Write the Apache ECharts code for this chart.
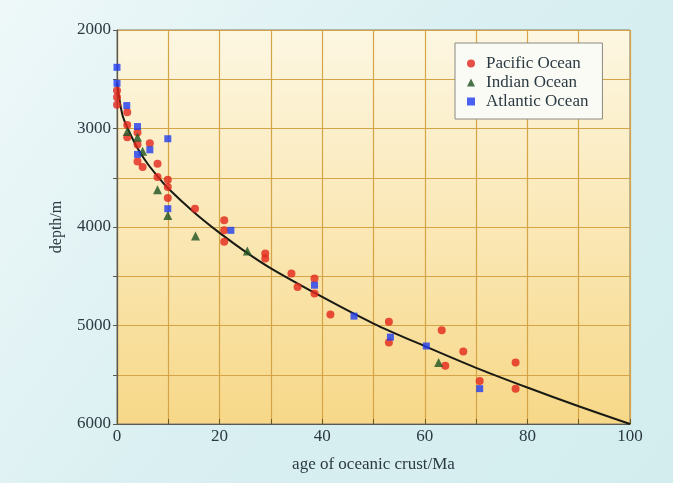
<!DOCTYPE html>
<html>
<head>
<meta charset="utf-8">
<script src="https://cdn.jsdelivr.net/npm/echarts@6/dist/echarts.min.js"></script>
<style>
  html, body { margin: 0; padding: 0; background: #fff; }
  #chart { width: 673px; height: 483px; }
</style>
</head>
<body>
<div id="chart"></div>
<script>
// data: [age (Ma), depth (m)]
const pacific = [
  [0, 2615], [0, 2682], [0, 2760], [2, 2835], [2, 2965], [2, 3090],
  [4, 3040], [4, 3162], [4, 3335], [5, 3392], [6.4, 3149], [7.9, 3358],
  [7.9, 3493], [9.9, 3520], [9.9, 3595], [9.9, 3706], [15.2, 3814],
  [20.9, 3932], [20.9, 4034], [20.9, 4150], [28.9, 4270], [28.9, 4321],
  [34, 4473], [35.2, 4608], [38.5, 4523], [38.5, 4675], [41.6, 4888],
  [53, 4963], [53, 5172], [63.3, 5047], [64, 5408], [67.5, 5263],
  [70.7, 5564], [77.7, 5375], [77.7, 5641]
]
const indian = [
  [2, 3031], [4, 3088], [5, 3231], [7.9, 3621], [9.9, 3882],
  [15.3, 4091], [25.4, 4243], [62.7, 5375]
]
const atlantic = [
  [0, 2379], [0, 2541], [1.9, 2767], [4, 2980], [9.9, 3104], [4, 3263],
  [6.4, 3216], [9.9, 3814], [22.2, 4034], [38.5, 4591], [46.2, 4905],
  [53.3, 5118], [60.3, 5208], [70.7, 5641]
]
// fitted curve, read at a few ages
const curveAges = [0, 1, 2, 4, 6, 8, 10, 15, 20, 25, 30, 40, 50, 60, 70, 80, 90, 100]
const curveDepths = [2540, 2850, 2990, 3200, 3360, 3490, 3610, 3850, 4060, 4250, 4420, 4710, 4980, 5210, 5430, 5630, 5820, 6000]

const textColor = '#2b3a42'
const font = 'Liberation Serif'

const chart = echarts.init(document.getElementById('chart'))
chart.setOption({
  backgroundColor: new echarts.graphic.LinearGradient(0, 0, 1, 1, [
    { offset: 0, color: '#eef8f9' },
    { offset: 0.5, color: '#d9eff1' },
    { offset: 1, color: '#d3edef' }
  ]),
  textStyle: { fontFamily: font },
  animation: false,
  grid: {
    left: 117, top: 30, width: 513, height: 394,
    show: true,
    borderColor: '#7a7a72',
    borderWidth: 1,
    backgroundColor: new echarts.graphic.LinearGradient(0, 0, 0, 1, [
      { offset: 0, color: '#fdf7e2' },
      { offset: 1, color: '#f7d888' }
    ])
  },
  legend: {
    orient: 'vertical',
    left: 455, top: 43,
    padding: [12, 14, 9, 12],
    backgroundColor: '#fbfbf6',
    borderColor: '#8a8a84',
    borderWidth: 1,
    itemWidth: 8, itemHeight: 8, itemGap: 2,
    data: ['Pacific Ocean', 'Indian Ocean', 'Atlantic Ocean'],
    textStyle: { fontFamily: font, fontSize: 17, color: textColor, padding: [0, 0, 0, 6] }
  },
  xAxis: {
    type: 'value', min: 0, max: 100, interval: 10,
    name: 'age of oceanic crust/Ma', nameLocation: 'middle', nameGap: 32,
    nameTextStyle: { fontFamily: font, fontSize: 17, color: textColor },
    axisLine: { show: true, lineStyle: { color: '#5a5a52', width: 1.2 } },
    axisTick: { show: true, inside: true, length: 5, lineStyle: { color: '#6a5a2a' } },
    axisLabel: {
      fontFamily: font, fontSize: 17, color: textColor, margin: 4,
      formatter: v => (v % 20 === 0 ? String(v) : '')
    },
    splitLine: { show: true, lineStyle: { color: '#d4a446', width: 1.2 } }
  },
  yAxis: {
    type: 'value', min: 2000, max: 6000, interval: 500, inverse: true,
    name: 'depth/m', nameLocation: 'middle', nameGap: 52, nameRotate: 90,
    nameTextStyle: { fontFamily: font, fontSize: 16, color: textColor },
    axisLine: { show: true, lineStyle: { color: '#5a5a52', width: 1.2 } },
    axisTick: { show: true, length: 4, lineStyle: { color: '#5a5a52' } },
    axisLabel: {
      fontFamily: font, fontSize: 17, color: textColor, margin: 6,
      formatter: v => (v % 1000 === 0 ? String(v) : '')
    },
    splitLine: { show: true, lineStyle: { color: '#d4a446', width: 1.2 } }
  },
  series: [
    {
      name: 'fit', type: 'line', smooth: 0.3, showSymbol: false, z: 1,
      lineStyle: { color: '#1a1a14', width: 2 },
      data: curveAges.map((a, i) => [a, curveDepths[i]])
    },
    {
      name: 'Pacific Ocean', type: 'scatter', symbol: 'circle', symbolSize: 8, z: 3,
      itemStyle: { color: '#e2261a' }, data: pacific
    },
    {
      name: 'Indian Ocean', type: 'scatter', symbol: 'triangle', symbolSize: 9, z: 3,
      itemStyle: { color: '#1d5220' }, data: indian
    },
    {
      name: 'Atlantic Ocean', type: 'scatter', symbol: 'rect', symbolSize: 7, z: 4,
      itemStyle: { color: '#1e3cf0' }, data: atlantic
    }
  ]
})
</script>
</body>
</html>
